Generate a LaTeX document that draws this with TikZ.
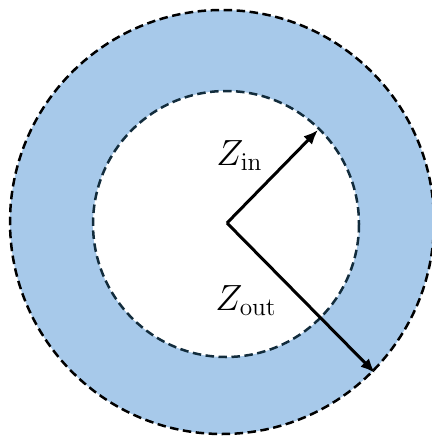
\documentclass[tikz,border=0pt]{standalone}
\usepackage{tikz}
\usetikzlibrary{arrows.meta}
\definecolor{ringblue}{RGB}{167,201,234}
\definecolor{edgeink}{RGB}{18,44,60}
\tikzset{
  ringedge/.style={line width=0.05cm,dash pattern=on 0.17cm off 0.09cm},
  radius arrow/.style={line width=0.06cm,-{Latex[length=0.29cm,width=0.24cm]}},
  zlabel/.style={inner sep=0pt,anchor=base west,font=\fontsize{21}{24}\selectfont}
}

\begin{document}
\begin{tikzpicture}[x=0.02cm,y=-0.02cm]
  \useasboundingbox (0,0) rectangle (432,436);
  % ring
  \fill[ringblue] (222,222) circle (212);
  \fill[white] (226,224) circle (133);
  \draw[ringedge,black] (222,222) circle (212);
  \draw[ringedge,edgeink] (226,224) circle (133);
  % radii
  \coordinate (O) at (227,223);
  \coordinate (In) at (318,130);
  \coordinate (Out) at (375,373);
  \draw[radius arrow] (O) -- (In);
  \draw[radius arrow] (O) -- (Out);
  \node[zlabel] (zin) at (216,165) {$Z_{\mathrm{in}}$};
  \node[zlabel] (zout) at (215,310) {$Z_{\mathrm{out}}$};
\end{tikzpicture}
\end{document}
